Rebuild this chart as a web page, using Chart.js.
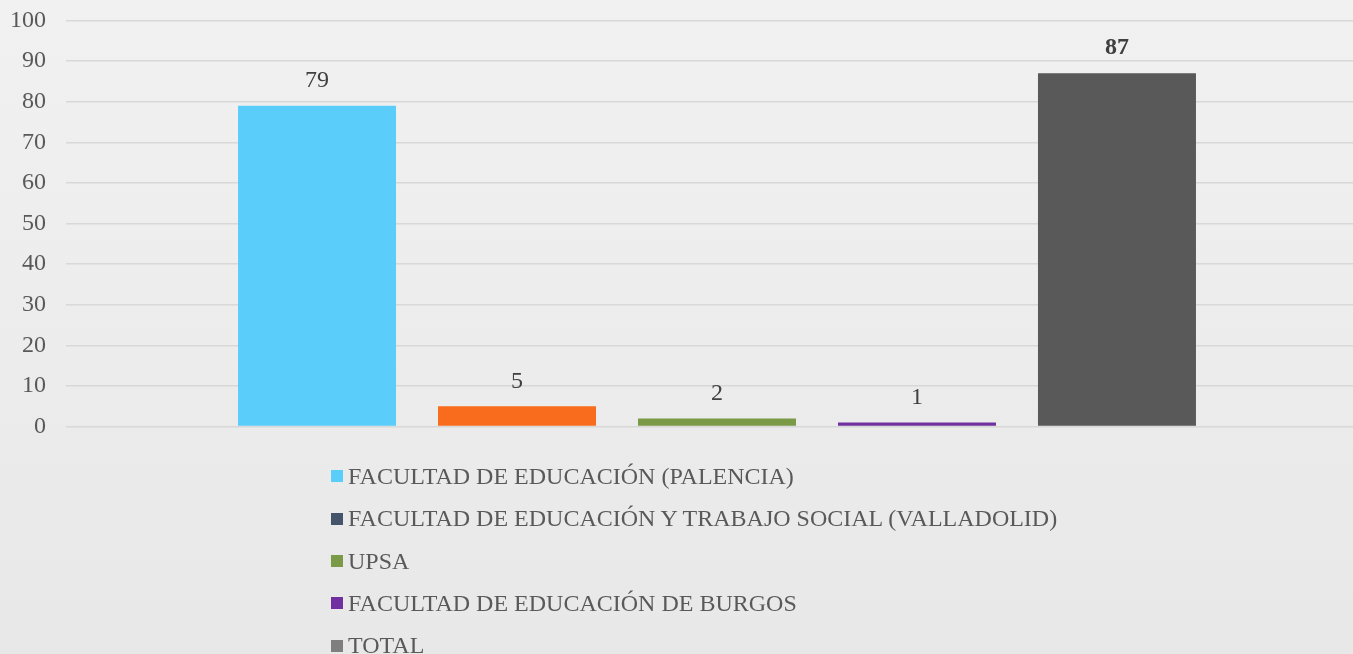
<!DOCTYPE html>
<html>
<head>
<meta charset="utf-8">
<script src="https://cdn.jsdelivr.net/npm/chart.js@4.4.1/dist/chart.umd.min.js"></script>
<style>
  html, body { margin: 0; padding: 0; width: 1353px; height: 654px; overflow: hidden; }
  body { background: linear-gradient(#f1f1f1, #e8e8e8); font-family: 'Liberation Serif', 'Times New Roman', serif; }
  #wrap { position: absolute; left: 0; top: -14px; width: 1368px; height: 475px; }
  #legend { position: absolute; left: 331px; top: 455px; margin: 0; padding: 0; list-style: none; }
  #legend li { height: 42.3px; line-height: 42.3px; font-size: 24px; color: #595959; white-space: nowrap; }
  #legend span { display: inline-block; width: 12px; height: 12px; margin-right: 5px; vertical-align: middle; position: relative; top: -2px; }
</style>
</head>
<body>
<div id="wrap"><canvas id="chart"></canvas></div>
<ul id="legend"></ul>
<script>
const FONT = "'Liberation Serif', 'Times New Roman', serif";
const seriesNames = [
  'FACULTAD DE EDUCACIÓN (PALENCIA)',
  'FACULTAD DE EDUCACIÓN Y TRABAJO SOCIAL (VALLADOLID)',
  'UPSA',
  'FACULTAD DE EDUCACIÓN DE BURGOS',
  'TOTAL'
];
const seriesValues = [79, 5, 2, 1, 87];
const barColors = ['#5bcdfa', '#f96b1d', '#7b9a48', '#7030a0', '#595959'];
const legendColors = ['#5bcdfa', '#44546a', '#7b9a48', '#7030a0', '#7f7f7f'];
const boldLabel = [false, false, false, false, true];
const yTicks = [0, 10, 20, 30, 40, 50, 60, 70, 80, 90, 100];

// value labels above each bar
const valueLabels = {
  id: 'valueLabels',
  afterDatasetsDraw(chart) {
    const ctx = chart.ctx;
    ctx.save();
    ctx.textAlign = 'center';
    ctx.textBaseline = 'middle';
    ctx.fillStyle = '#404040';
    chart.data.datasets.forEach((ds, i) => {
      const bar = chart.getDatasetMeta(i).data[0];
      ctx.font = (boldLabel[i] ? 'bold ' : '') + '24px ' + FONT;
      ctx.fillText(String(ds.data[0]), bar.x, bar.y - 25);
    });
    ctx.restore();
  }
};

const ctx = document.getElementById('chart').getContext('2d');
new Chart(ctx, {
  type: 'bar',
  data: {
    labels: [''],
    datasets: seriesNames.map((name, i) => ({
      label: name,
      data: [seriesValues[i]],
      backgroundColor: barColors[i],
      borderWidth: 0,
      categoryPercentage: 0.768,
      barPercentage: 0.79
    }))
  },
  options: {
    responsive: true,
    maintainAspectRatio: false,
    animation: false,
    layout: { padding: { top: 8, bottom: 4, left: 0, right: 0 } },
    plugins: {
      legend: { display: false },
      tooltip: { enabled: false }
    },
    scales: {
      x: { display: false },
      y: {
        min: 0,
        max: 100,
        afterBuildTicks: (scale) => { scale.ticks = yTicks.map(v => ({ value: v })); },
        afterFit: (scale) => { scale.width = 66; },
        grid: { color: '#d8d8d8', lineWidth: 1.5, drawTicks: false },
        border: { display: false },
        ticks: {
          padding: 20,
          color: '#595959',
          font: { family: FONT, size: 24 }
        }
      }
    }
  },
  plugins: [valueLabels]
});

const legend = document.getElementById('legend');
seriesNames.forEach((name, i) => {
  const li = document.createElement('li');
  const box = document.createElement('span');
  box.style.background = legendColors[i];
  li.appendChild(box);
  li.appendChild(document.createTextNode(name));
  legend.appendChild(li);
});
</script>
</body>
</html>
